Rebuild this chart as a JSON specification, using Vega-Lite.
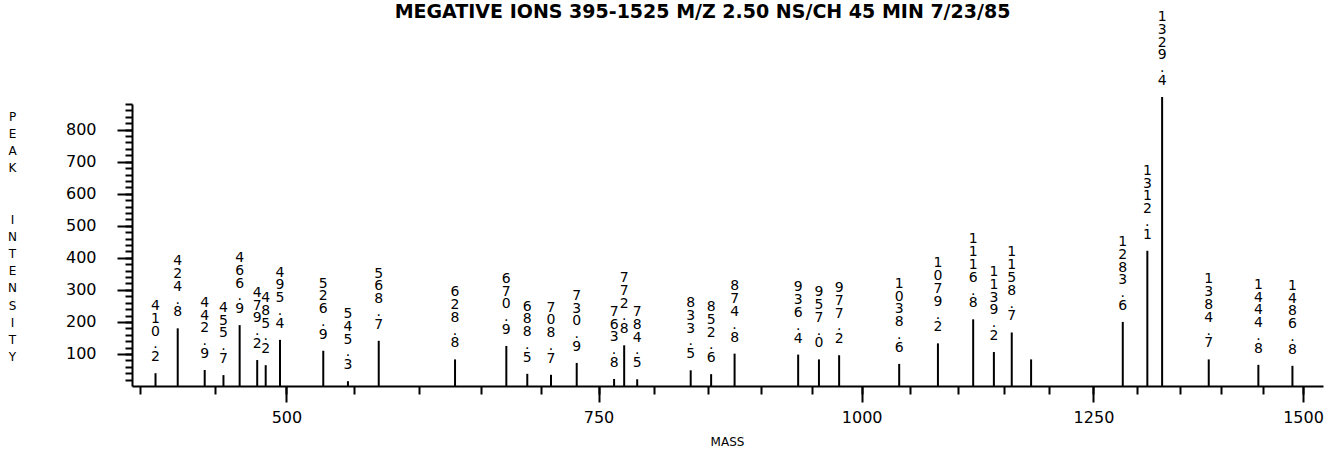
{
  "$schema": "https://vega.github.io/schema/vega-lite/v6.json",
  "autosize": {"type": "none"},
  "padding": {"left": 132, "top": 104, "right": 13, "bottom": 84},
  "width": 1191,
  "height": 282,
  "background": "white",
  "title": {
    "text": "MEGATIVE IONS 395-1525 M/Z 2.50 NS/CH 45 MIN 7/23/85",
    "font": "DejaVu Sans",
    "fontSize": 19,
    "fontWeight": "bold",
    "color": "black",
    "anchor": "middle",
    "frame": "group",
    "offset": -12,
    "dx": -25
  },
  "data": {
    "values": [
      {"mass": 410.2, "intensity": 40, "label": "410.2"},
      {"mass": 424.8, "intensity": 180, "label": "424.8"},
      {"mass": 442.9, "intensity": 50, "label": "442.9"},
      {"mass": 455.7, "intensity": 34, "label": "455.7"},
      {"mass": 466.9, "intensity": 190, "label": "466.9"},
      {"mass": 479.2, "intensity": 81, "label": "479.2"},
      {"mass": 485.2, "intensity": 65, "label": "485.2"},
      {"mass": 495.4, "intensity": 144, "label": "495.4"},
      {"mass": 526.9, "intensity": 110, "label": "526.9"},
      {"mass": 545.3, "intensity": 15, "label": "545.3"},
      {"mass": 568.7, "intensity": 141, "label": "568.7"},
      {"mass": 628.8, "intensity": 83, "label": "628.8"},
      {"mass": 670.9, "intensity": 125, "label": "670.9"},
      {"mass": 688.5, "intensity": 38, "label": "688.5"},
      {"mass": 708.7, "intensity": 35, "label": "708.7"},
      {"mass": 730.9, "intensity": 72, "label": "730.9"},
      {"mass": 763.8, "intensity": 22, "label": "763.8"},
      {"mass": 772.8, "intensity": 127, "label": "772.8"},
      {"mass": 784.5, "intensity": 21, "label": "784.5"},
      {"mass": 833.5, "intensity": 49, "label": "833.5"},
      {"mass": 852.6, "intensity": 37, "label": "852.6"},
      {"mass": 874.8, "intensity": 101, "label": "874.8"},
      {"mass": 936.4, "intensity": 98, "label": "936.4"},
      {"mass": 957.0, "intensity": 83, "label": "957.0"},
      {"mass": 977.2, "intensity": 96, "label": "977.2"},
      {"mass": 1038.6, "intensity": 69, "label": "1038.6"},
      {"mass": 1079.2, "intensity": 133, "label": "1079.2"},
      {"mass": 1116.8, "intensity": 208, "label": "1116.8"},
      {"mass": 1139.2, "intensity": 106, "label": "1139.2"},
      {"mass": 1158.7, "intensity": 167, "label": "1158.7"},
      {"mass": 1180, "intensity": 83, "label": ""},
      {"mass": 1283.6, "intensity": 200, "label": "1283.6"},
      {"mass": 1312.1, "intensity": 422, "label": "1312.1"},
      {"mass": 1329.4, "intensity": 902, "label": "1329.4"},
      {"mass": 1384.7, "intensity": 83, "label": "1384.7"},
      {"mass": 1444.8, "intensity": 66, "label": "1444.8"},
      {"mass": 1486.8, "intensity": 63, "label": "1486.8"}
    ]
  },
  "resolve": {"axis": {"x": "independent", "y": "independent"}},
  "layer": [
    {
      "mark": {"type": "rule", "color": "black", "strokeWidth": 2},
      "encoding": {
        "x": {
          "field": "mass",
          "type": "quantitative",
          "scale": {"type": "sqrt", "domain": [395, 1525], "zero": false, "nice": false},
          "axis": {
            "orient": "bottom",
            "values": [500, 750, 1000, 1250, 1500],
            "format": "d",
            "tickSize": 16,
            "labelPadding": 7,
            "labelFlush": false,
            "labelOverlap": false,
            "title": "MASS",
            "titleFontSize": 12,
            "titleY": 50,
            "titleBaseline": "top",
            "titleX": 595
          }
        },
        "y": {
          "field": "intensity",
          "type": "quantitative",
          "scale": {"domain": [0, 880], "nice": false, "zero": true},
          "axis": {
            "orient": "left",
            "values": [100, 200, 300, 400, 500, 600, 700, 800],
            "tickSize": 15,
            "labelPadding": 21,
            "title": ["P", "E", "A", "K", "\u2800", "\u2800", "I", "N", "T", "E", "N", "S", "I", "T", "Y"],
            "titleAngle": 0,
            "titleFontSize": 12,
            "titleLineHeight": 17.2,
            "titleAlign": "center",
            "titleBaseline": "middle",
            "titleX": -120,
            "titleY": 12
          }
        },
        "y2": {"datum": 0}
      }
    },
    {
      "transform": [
        {"filter": "length(datum.label) == 5"},
        {"calculate": "split(datum.label, '')", "as": "chars"}
      ],
      "mark": {
        "type": "text",
        "font": "DejaVu Sans",
        "fontSize": 14,
        "lineHeight": 12.8,
        "align": "center",
        "baseline": "bottom",
        "dy": -60.2,
        "color": "black"
      },
      "encoding": {
        "x": {
          "field": "mass",
          "type": "quantitative",
          "axis": {
            "orient": "bottom",
            "values": [400, 450, 500, 550, 600, 650, 700, 750, 800, 850, 900, 950, 1000, 1050, 1100, 1150, 1200, 1250, 1300, 1350, 1400, 1450, 1500],
            "tickSize": 8,
            "labels": false,
            "domain": false,
            "title": null
          }
        },
        "y": {
          "field": "intensity",
          "type": "quantitative",
          "axis": {
            "orient": "left",
            "values": [20, 40, 60, 80, 100, 120, 140, 160, 180, 200, 220, 240, 260, 280, 300, 320, 340, 360, 380, 400, 420, 440, 460, 480, 500, 520, 540, 560, 580, 600, 620, 640, 660, 680, 700, 720, 740, 760, 780, 800, 820, 840, 860, 880],
            "tickSize": 7,
            "labels": false,
            "domain": false,
            "title": null
          }
        },
        "text": {"field": "chars", "type": "nominal"}
      }
    },
    {
      "transform": [
        {"filter": "length(datum.label) == 6"},
        {"calculate": "split(datum.label, '')", "as": "chars"}
      ],
      "mark": {
        "type": "text",
        "font": "DejaVu Sans",
        "fontSize": 14,
        "lineHeight": 12.8,
        "align": "center",
        "baseline": "bottom",
        "dy": -73,
        "color": "black"
      },
      "encoding": {
        "x": {"field": "mass", "type": "quantitative", "axis": null},
        "y": {"field": "intensity", "type": "quantitative", "axis": null},
        "text": {"field": "chars", "type": "nominal"}
      }
    }
  ],
  "config": {
    "view": {"stroke": null},
    "axis": {
      "grid": false,
      "domainColor": "black",
      "domainWidth": 2,
      "tickColor": "black",
      "tickWidth": 2,
      "labelColor": "black",
      "labelFont": "DejaVu Sans",
      "labelFontSize": 16,
      "titleFont": "DejaVu Sans",
      "titleFontWeight": "normal",
      "titleColor": "black"
    }
  }
}
